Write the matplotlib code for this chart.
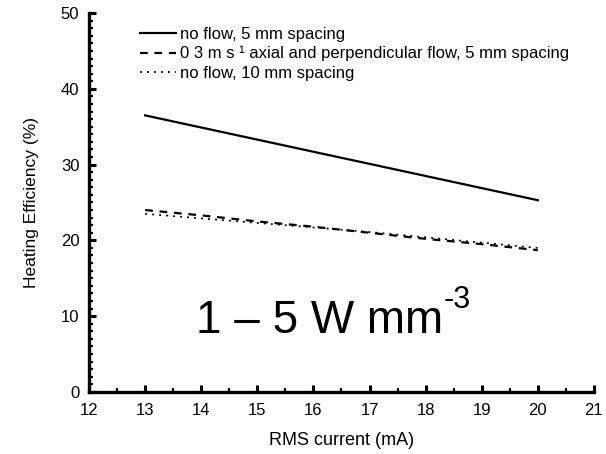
import numpy as np
import matplotlib
matplotlib.use("Agg")
import matplotlib.pyplot as plt
from matplotlib.ticker import MultipleLocator

plt.rcParams['font.family'] = ['Liberation Sans', 'DejaVu Sans']

# Heating efficiency vs RMS current
current = [13, 14, 15, 16, 17, 18, 19, 20]
no_flow_5mm = [36.5, 34.9, 33.3, 31.7, 30.1, 28.5, 26.9, 25.3]
flow_5mm = [24.0, 23.3, 22.5, 21.8, 21.0, 20.2, 19.5, 18.7]
no_flow_10mm = [23.5, 22.9, 22.3, 21.7, 21.1, 20.4, 19.7, 19.0]

labels = ["no flow, 5 mm spacing",
          "0 3 m s \u00b9 axial and perpendicular flow, 5 mm spacing",
          "no flow, 10 mm spacing"]

fig = plt.figure(figsize=(6.06, 4.54), dpi=100)
ax = fig.add_axes([0.147, 0.137, 0.833, 0.834])

ax.plot(current, no_flow_5mm, color='black', lw=1.6, ls='-', label=labels[0])
ax.plot(current, flow_5mm, color='black', lw=1.6, ls=(0, (3.5, 3)), label=labels[1])
ax.plot(current, no_flow_10mm, color='black', lw=1.2, ls=(0, (1.2, 3)), label=labels[2])

ax.set_xlim(12, 21)
ax.set_ylim(0, 50)
ax.xaxis.set_major_locator(MultipleLocator(1))
ax.xaxis.set_minor_locator(MultipleLocator(0.5))
ax.yaxis.set_major_locator(MultipleLocator(10))
ax.yaxis.set_minor_locator(MultipleLocator(1))

for s in ['top', 'right']:
    ax.spines[s].set_visible(False)
for s in ['left', 'bottom']:
    ax.spines[s].set_linewidth(2.4)

ax.tick_params(which='major', direction='in', length=5, width=2.2, labelsize=12)
ax.tick_params(which='minor', direction='in', length=3, width=1.6)
ax.tick_params(axis='x', pad=8)
ax.tick_params(axis='y', pad=7)

ax.set_xlabel("RMS current (mA)", fontsize=13, labelpad=10)
ax.set_ylabel("Heating Efficiency (%)", fontsize=12.5, labelpad=16)

leg = ax.legend(loc='upper left', bbox_to_anchor=(0.1, 0.964), frameon=False,
                fontsize=12, handlelength=2.2, handletextpad=0.2, labelspacing=0.25,
                borderaxespad=0, borderpad=0)

txt = ax.text(0.212, 0.156, "1 \u2013 5 W mm", transform=ax.transAxes,
              fontsize=33, ha='left', va='baseline')
ax.annotate("-3", xy=(1.0, 0.62), xycoords=txt, fontsize=22,
            ha='left', va='bottom')

fig.savefig("out.png", dpi=100)
